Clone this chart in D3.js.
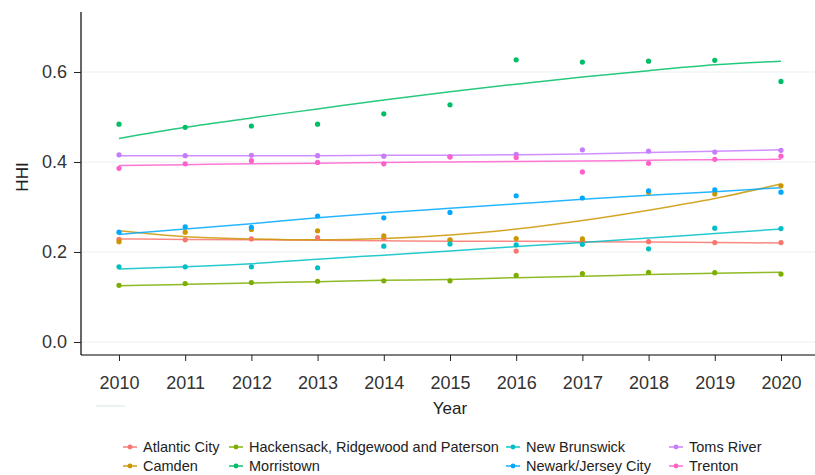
<!DOCTYPE html>
<html>
<head>
<meta charset="utf-8">
<script src="https://cdn.jsdelivr.net/npm/d3@7"></script>
<style>
  html, body { margin: 0; padding: 0; background: #fff; }
  svg { display: block; font-family: "Liberation Sans", Arial, Helvetica, sans-serif; }
</style>
</head>
<body>
<svg id="chart" width="815" height="475"></svg>
<script>
const years = [2010, 2011, 2012, 2013, 2014, 2015, 2016, 2017, 2018, 2019, 2020];
const categories = ["Atlantic City", "Camden", "Hackensack, Ridgewood and Paterson", "Morristown",
                    "New Brunswick", "Newark/Jersey City", "Toms River", "Trenton"];
const colors = ["#F8766D", "#CD9600", "#7CAE00", "#00BE67", "#00BFC4", "#00A9FF", "#C77CFF", "#FF61CC"];

// observed HHI values
const atlanticCity = [0.228, 0.227, 0.229, 0.232, 0.230, 0.226, 0.202, 0.224, 0.223, 0.221, 0.221];
const camden       = [0.223, 0.244, 0.250, 0.247, 0.236, 0.227, 0.230, 0.229, 0.333, 0.329, 0.347];
const hackensack   = [0.126, 0.130, 0.132, 0.135, 0.136, 0.136, 0.148, 0.152, 0.155, 0.154, 0.151];
const morristown   = [0.484, 0.477, 0.480, 0.484, 0.507, 0.527, 0.627, 0.622, 0.624, 0.626, 0.579];
const newBrunswick = [0.167, 0.167, 0.167, 0.165, 0.213, 0.218, 0.216, 0.217, 0.207, 0.253, 0.252];
const newark       = [0.244, 0.256, 0.255, 0.280, 0.276, 0.288, 0.325, 0.320, 0.336, 0.338, 0.333];
const tomsRiver    = [0.416, 0.414, 0.415, 0.414, 0.413, 0.412, 0.417, 0.427, 0.424, 0.422, 0.426];
const trenton      = [0.386, 0.396, 0.403, 0.399, 0.396, 0.411, 0.410, 0.378, 0.397, 0.406, 0.413];

// smoothed trend values
const atlanticCityFit = [0.229, 0.228, 0.227, 0.226, 0.225, 0.224, 0.224, 0.223, 0.222, 0.221, 0.220];
const camdenFit       = [0.247, 0.234, 0.229, 0.227, 0.230, 0.238, 0.251, 0.270, 0.293, 0.319, 0.351];
const hackensackFit   = [0.125, 0.128, 0.131, 0.134, 0.137, 0.139, 0.143, 0.146, 0.150, 0.153, 0.155];
const morristownFit   = [0.452, 0.477, 0.498, 0.518, 0.538, 0.556, 0.573, 0.589, 0.603, 0.616, 0.624];
const newBrunswickFit = [0.162, 0.167, 0.174, 0.184, 0.193, 0.202, 0.212, 0.221, 0.231, 0.241, 0.251];
const newarkFit       = [0.239, 0.251, 0.263, 0.276, 0.287, 0.297, 0.307, 0.317, 0.326, 0.334, 0.343];
const tomsRiverFit    = [0.414, 0.414, 0.414, 0.414, 0.415, 0.415, 0.416, 0.418, 0.421, 0.424, 0.427];
const trentonFit      = [0.392, 0.394, 0.396, 0.397, 0.399, 0.400, 0.401, 0.402, 0.404, 0.405, 0.406];

const yTicks = [0.0, 0.2, 0.4, 0.6];

const observed = [atlanticCity, camden, hackensack, morristown, newBrunswick, newark, tomsRiver, trenton];
const fitted = [atlanticCityFit, camdenFit, hackensackFit, morristownFit, newBrunswickFit, newarkFit, tomsRiverFit, trentonFit];

(function () {
const series = categories.map((name, i) => ({
  name, color: colors[i],
  points: years.map((yr, j) => ({ x: yr, y: observed[i][j] })),
  fit: years.map((yr, j) => ({ x: yr, y: fitted[i][j] }))
}));

const svg = d3.select("#chart");
const pLeft = 81, pRight = 815, pTop = 12, pBottom = 355;

const x = d3.scaleLinear().domain([2009.426, 2020.514]).range([pLeft, pRight]);
const y = d3.scaleLinear().domain([-0.0289, 0.7333]).range([pBottom, pTop]);

// grid
svg.append("g").selectAll("line").data(yTicks).join("line")
  .attr("x1", pLeft).attr("x2", pRight)
  .attr("y1", d => y(d)).attr("y2", d => y(d))
  .attr("stroke", "#EBF1F1").attr("stroke-width", 1);

// trend lines
const line = d3.line().x(d => x(d.x)).y(d => y(d.y)).curve(d3.curveMonotoneX);
svg.append("g").selectAll("path").data(series).join("path")
  .attr("d", d => line(d.fit))
  .attr("fill", "none")
  .attr("stroke", d => d.color)
  .attr("stroke-width", 1.5)
  .attr("stroke-opacity", 0.85);

// points
series.forEach(s => {
  svg.append("g").selectAll("circle").data(s.points).join("circle")
    .attr("cx", d => x(d.x)).attr("cy", d => y(d.y))
    .attr("r", 2.6).attr("fill", s.color);
});

// axes
const yAxis = d3.axisLeft(y).tickValues(yTicks).tickFormat(d3.format(".1f")).tickSize(7).tickPadding(7);
const gy = svg.append("g").attr("transform", `translate(${pLeft},0)`).call(yAxis);
gy.select(".domain").attr("d", `M0,${pTop}V${pBottom}`).attr("stroke", "#000").attr("stroke-width", 1.2);
gy.selectAll(".tick line").attr("stroke", "#222");
gy.selectAll(".tick text").attr("font-size", 18).attr("fill", "#333")
  .attr("font-family", "Liberation Sans, Arial, sans-serif");

const xAxis = d3.axisBottom(x).tickValues(years).tickFormat(d3.format("d")).tickSize(6).tickPadding(15);
const gx = svg.append("g").attr("transform", `translate(0,${pBottom})`).call(xAxis);
gx.select(".domain").attr("d", `M${pLeft},0H${pRight}`).attr("stroke", "#000").attr("stroke-width", 1.2);
gx.selectAll(".tick line").attr("stroke", "#222");
gx.selectAll(".tick text").attr("font-size", 18).attr("fill", "#333")
  .attr("font-family", "Liberation Sans, Arial, sans-serif");

// axis titles
svg.append("text").attr("x", 450).attr("y", 414).attr("text-anchor", "middle")
  .attr("font-size", 17).attr("fill", "#222").text("Year");
svg.append("text").attr("transform", "translate(28,177) rotate(-90)").attr("text-anchor", "middle")
  .attr("font-size", 17).attr("fill", "#222").text("HHI");

// faint stray key line
svg.append("line").attr("x1", 96).attr("x2", 125).attr("y1", 406).attr("y2", 406)
  .attr("stroke", "#E6EEF0").attr("stroke-width", 1.5);

// legend
const colX = [143, 249, 526, 689];
const rowY = [447, 466];
const legend = svg.append("g");
series.forEach((s, i) => {
  const col = Math.floor(i / 2), row = i % 2;
  const tx = colX[col], ty = rowY[row];
  const g = legend.append("g");
  g.append("line").attr("x1", tx - 20).attr("x2", tx - 6).attr("y1", ty).attr("y2", ty)
    .attr("stroke", s.color).attr("stroke-width", 1.4);
  g.append("circle").attr("cx", tx - 13).attr("cy", ty).attr("r", 2.4).attr("fill", s.color);
  g.append("text").attr("x", tx).attr("y", ty).attr("dy", "0.35em")
    .attr("font-size", 14.5).attr("fill", "#222").text(s.name);
});
})();
</script>
</body>
</html>
